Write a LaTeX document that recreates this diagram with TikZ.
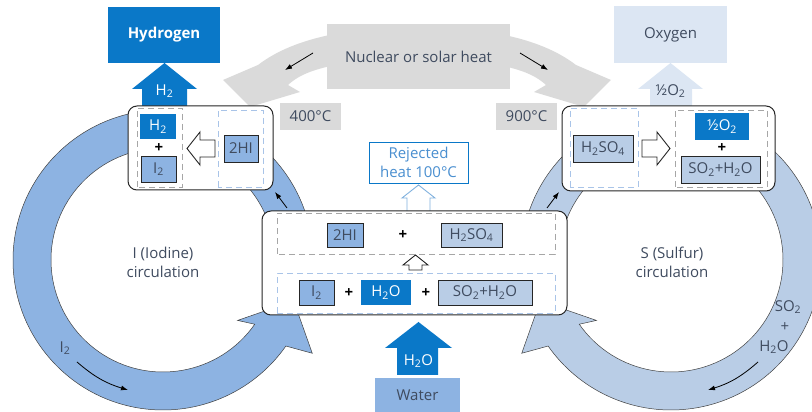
\documentclass[tikz,border=0pt]{standalone}
\usepackage{fontspec}
\setmainfont{Open Sans}
\usetikzlibrary{calc,arrows.meta}

\definecolor{hblue}{HTML}{0A78C8}
\definecolor{iblue}{HTML}{8DB3E2}
\definecolor{sblue}{HTML}{B9CDE6}
\definecolor{oblue}{HTML}{DCE6F3}
\definecolor{heatgrey}{HTML}{DADADA}
\definecolor{txt}{HTML}{3F4B5F}
\definecolor{dashgrey}{HTML}{A6A6A6}
\definecolor{dashblue}{HTML}{A9C4E8}
\definecolor{rjblue}{HTML}{4A8FD0}

\newcommand{\basefont}{\fontsize{15}{19}\selectfont}

\tikzset{
  ring/.style={draw=black!75, line width=0.5pt},
  panel/.style={draw=black!85, line width=1pt, fill=white, rounded corners=9pt},
  grpgrey/.style={draw=dashgrey, dash pattern=on 6pt off 4pt, line width=0.9pt},
  grpblue/.style={draw=dashblue, dash pattern=on 6pt off 4pt, line width=0.9pt},
  chem/.style={draw=black!85, line width=0.9pt, minimum height=25pt, inner sep=1pt, text=txt},
  ichem/.style={chem, fill=iblue},
  schem/.style={chem, fill=sblue},
  hchem/.style={minimum height=25pt, inner sep=1pt, fill=hblue, text=white},
  plussign/.style={text=black, font=\basefont\bfseries},
  warrow/.style={draw=black!85, line width=0.9pt, fill=white},
  tiparrow/.style={-{Latex[length=7pt,width=5pt]}, line width=0.8pt, black},
  heatband/.style={fill=heatgrey},
}

\begin{document}
\begin{tikzpicture}[x=1pt,y=1pt,font=\basefont,text=txt]
\useasboundingbox (0,0) rectangle (812,412);
\clip (0,0) rectangle (812,412);
\coordinate (lc) at (163,152);
\coordinate (rc) at (671,152);

% heat bands
\fill[heatband] (340,379) .. controls (300,372) and (275,360) .. (258,347)
  -- (223,332) -- (250,305) -- (300,320) -- (288,327)
  .. controls (300,338) and (315,343) .. (340,348) -- cycle;
\fill[heatband] (494,379) .. controls (534,372) and (559,360) .. (576,347)
  -- (611,332) -- (584,305) -- (534,320) -- (546,327)
  .. controls (534,338) and (519,343) .. (494,348) -- cycle;

% circulation rings
\filldraw[ring, fill=iblue] ($(lc)+(-5:150)$) arc[start angle=-5,end angle=325,radius=150]
  -- ($(lc)+(328:176)$) -- ($(lc)+(342.6:137)$) -- ($(lc)+(321:96)$)
  -- ($(lc)+(325:112)$) arc[start angle=325,end angle=-5,radius=112] -- cycle;
\filldraw[ring, fill=sblue] ($(rc)+(185:150)$) arc[start angle=185,end angle=-145,radius=150]
  -- ($(rc)+(212:176)$) -- ($(rc)+(197.4:137)$) -- ($(rc)+(219:96)$)
  -- ($(rc)+(215:112)$) arc[start angle=-145,end angle=185,radius=112] -- cycle;

% products
\fill[hblue] (142,306) -- (142,323) -- (132,323) -- (164.5,349) -- (197,323) -- (187,323) -- (187,306) -- cycle;
\node[fill=hblue, text=white, font=\basefont\bfseries, minimum width=112pt, minimum height=56pt] (hyd) at (164,377) {Hydrogen};
\node[text=white] (h2up) at (164.5,321) {H\textsubscript{2}};
\fill[oblue] (650,306) -- (650,323) -- (638,323) -- (670.5,349) -- (703,323) -- (692,323) -- (692,306) -- cycle;
\node[fill=oblue, minimum width=113pt, minimum height=57pt] (oxy) at (670.5,377.5) {Oxygen};
\node (o2up) at (670.5,321) {½O\textsubscript{2}};

% heat source
\node[fill=heatgrey, minimum width=183pt, minimum height=65pt] (heat) at (418.5,355.5) {Nuclear or solar heat};
\node[fill=heatgrey, minimum width=61pt, minimum height=27pt] (tlow) at (310.5,295.5) {400°C};
\node[fill=heatgrey, minimum width=61pt, minimum height=27pt] (thigh) at (526.5,295.5) {900°C};
\coordinate (hl1) at (313,359); \coordinate (hl2) at (285,342);
\coordinate (hr1) at (520,359); \coordinate (hr2) at (548,342);
\draw[tiparrow] (hl1) -- (hl2);
\draw[tiparrow] (hr1) -- (hr2);

% HI decomposition
\draw[panel] (128,222) rectangle (273,306);
\draw[grpgrey] (137,225) rectangle (182,304);
\draw[grpblue] (218,225) rectangle (263,302);
\node[hchem, minimum width=36pt] (h2l) at (158,285.5) {H\textsubscript{2}};
\node[plussign] (pl1) at (159,264) {+};
\node[ichem, minimum width=35pt, minimum height=26pt] (i2l) at (158.5,243) {I\textsubscript{2}};
\draw[warrow] (187,263.5) -- (200,280) -- (200,272) -- (215,272) -- (215,255) -- (200,255) -- (200,247) -- cycle;
\node[ichem, minimum width=34pt, minimum height=27pt] (hil) at (241,263.5) {2HI};

% H2SO4 decomposition
\draw[panel] (562,221) rectangle (775,306);
\draw[grpblue] (570,225) rectangle (638,304);
\node[schem, minimum width=60pt, minimum height=27pt] (hsr) at (603,263.5) {H\textsubscript{2}SO\textsubscript{4}};
\draw[warrow] (670,263.5) -- (657,280) -- (657,272) -- (642,272) -- (642,255) -- (657,255) -- (657,247) -- cycle;
\draw[grpgrey] (675,225) rectangle (767,302);
\node[hchem, minimum width=54pt, minimum height=27pt] (o2r) at (722,285.5) {½O\textsubscript{2}};
\node[plussign] (pl2) at (722,264) {+};
\node[schem, minimum width=79pt, minimum height=27pt] (sor) at (720.5,242.5) {SO\textsubscript{2}+H\textsubscript{2}O};

% Bunsen reaction
\draw[draw=rjblue!70, line width=0.9pt, fill=white] (407,201) -- (407,214) -- (402,214) -- (418.5,227) -- (435,214) -- (430,214) -- (430,201);
\node[draw=hblue, line width=0.8pt, fill=white, text=rjblue, align=center, minimum width=99pt, minimum height=41pt, inner sep=1pt] (rej) at (418.5,249.5) {Rejected\\heat 100°C};
\draw[panel] (262,97) rectangle (567,201);
\draw[grpgrey] (277,158) rectangle (555,199);
\node[ichem, minimum width=36pt, minimum height=24pt] (hic) at (345,177) {2HI};
\node[plussign] (pl3) at (403,177) {+};
\node[schem, minimum width=61pt, minimum height=24pt] (hsc) at (471.5,177) {H\textsubscript{2}SO\textsubscript{4}};
\draw[warrow] (415.5,157) -- (428,147) -- (422,147) -- (422,142) -- (409,142) -- (409,147) -- (403,147) -- cycle;
\draw[grpblue] (277,99) rectangle (555,139);
\node[ichem, minimum width=35pt] (i2c) at (316.5,119.5) {I\textsubscript{2}};
\node[plussign] (pl4) at (349,119) {+};
\node[hchem, minimum width=50pt] (h2oc) at (386,119.5) {H\textsubscript{2}O};
\node[plussign] (pl5) at (426,119) {+};
\node[schem, minimum width=94pt] (soc) at (485,119.5) {SO\textsubscript{2}+H\textsubscript{2}O};

% water feed
\fill[hblue] (397,37) -- (397,64) -- (385,64) -- (418.5,90) -- (452,64) -- (438,64) -- (438,37) -- cycle;
\node[text=white] (h2oin) at (418.5,51) {H\textsubscript{2}O};
\node[fill=iblue, minimum width=85pt, minimum height=34pt] (water) at (417.5,17) {Water};

% ring labels
\node[align=center] (ilab) at (163,150) {I (Iodine)\\circulation};
\node[align=center] (slab) at (672,150) {S (Sulfur)\\circulation};
\node (i2lab) at (65,64) {I\textsubscript{2}};
\coordinate (ia1) at (77,50); \coordinate (ia2) at (128,22);
\draw[tiparrow] (ia1) to[bend right=12] (ia2);
\node (so1) at (788,105) {SO\textsubscript{2}};
\node (so2) at (785,85) {+};
\node (so3) at (774,65) {H\textsubscript{2}O};
\coordinate (sa1) at (758,50); \coordinate (sa2) at (708,22);
\draw[tiparrow] (sa1) to[bend left=12] (sa2);
\coordinate (rl1) at (287,204); \coordinate (rl2) at (275,220);
\coordinate (rr1) at (547,204); \coordinate (rr2) at (559,220);
\draw[tiparrow] (rl1) -- (rl2);
\draw[tiparrow] (rr1) -- (rr2);
\end{tikzpicture}
\end{document}
